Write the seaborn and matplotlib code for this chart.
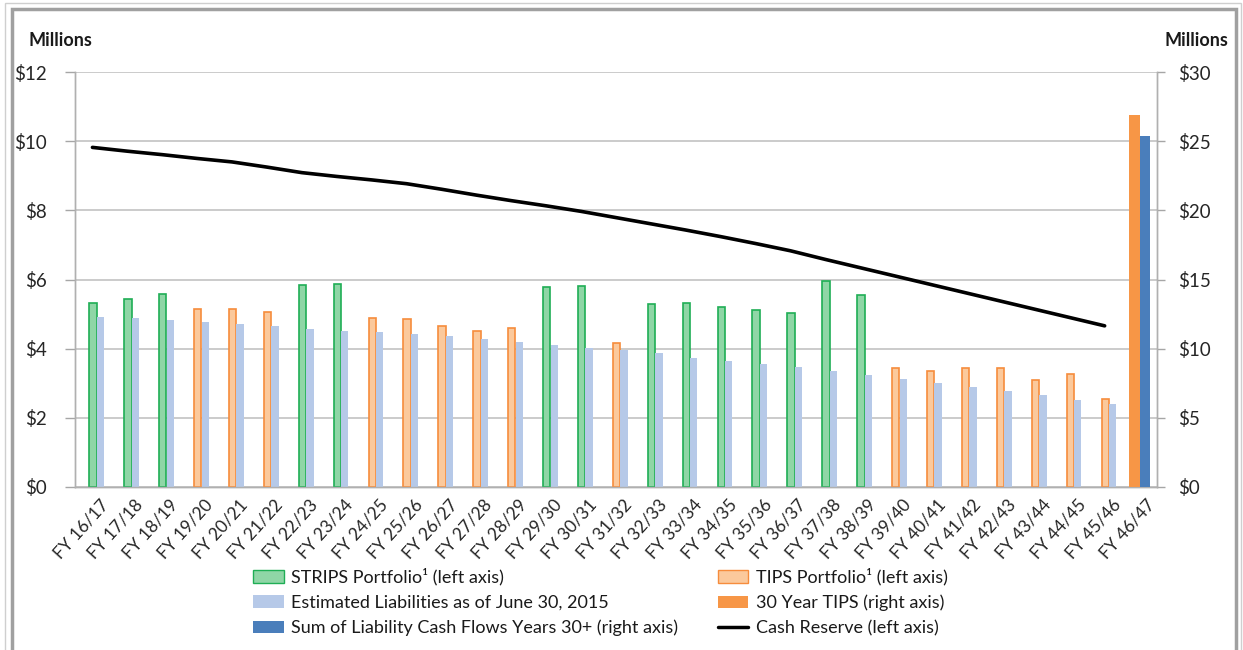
import numpy as np
import pandas as pd
import matplotlib
matplotlib.use('Agg')
import matplotlib.pyplot as plt
import matplotlib.transforms as mtransforms
from matplotlib.patches import Patch, Rectangle
from matplotlib.lines import Line2D
from matplotlib.ticker import FixedLocator, FuncFormatter
import seaborn as sns

# Fiscal years on the x axis
years = ['FY 16/17', 'FY 17/18', 'FY 18/19', 'FY 19/20', 'FY 20/21', 'FY 21/22',
         'FY 22/23', 'FY 23/24', 'FY 24/25', 'FY 25/26', 'FY 26/27', 'FY 27/28',
         'FY 28/29', 'FY 29/30', 'FY 30/31', 'FY 31/32', 'FY 32/33', 'FY 33/34',
         'FY 34/35', 'FY 35/36', 'FY 36/37', 'FY 37/38', 'FY 38/39', 'FY 39/40',
         'FY 40/41', 'FY 41/42', 'FY 42/43', 'FY 43/44', 'FY 44/45', 'FY 45/46',
         'FY 46/47']

# Left axis series ($ millions), NaN where the year has no such holding
nan = np.nan
strips = [5.33, 5.44, 5.58, nan, nan, nan, 5.84, 5.86, nan, nan, nan, nan,
          nan, 5.79, 5.82, nan, 5.29, 5.32, 5.21, 5.12, 5.02, 5.95, 5.56, nan,
          nan, nan, nan, nan, nan, nan, nan]
tips = [nan, nan, nan, 5.16, 5.16, 5.07, nan, nan, 4.89, 4.86, 4.66, 4.51,
        4.61, nan, nan, 4.16, nan, nan, nan, nan, nan, nan, nan, 3.45,
        3.35, 3.45, 3.45, 3.10, 3.28, 2.54, nan]
liabilities = [4.93, 4.88, 4.83, 4.77, 4.72, 4.66, 4.58, 4.50, 4.49, 4.42,
               4.36, 4.27, 4.18, 4.12, 4.02, 3.95, 3.87, 3.74, 3.65, 3.55,
               3.46, 3.35, 3.23, 3.12, 3.00, 2.90, 2.78, 2.66, 2.52, 2.40, nan]
cash_reserve = [9.82, 9.71, 9.61, 9.50, 9.40, 9.25, 9.09, 8.98, 8.88, 8.77,
                8.61, 8.44, 8.28, 8.13, 7.97, 7.79, 7.61, 7.43, 7.24, 7.04,
                6.83, 6.58, 6.34, 6.10, 5.86, 5.62, 5.38, 5.14, 4.90, 4.66]

# Right axis series ($ millions), only the last year
tips_30yr = [nan] * 30 + [26.9]
sum_30plus = [nan] * 30 + [25.4]

df = pd.DataFrame({'year': years, 'strips': strips, 'tips': tips,
                   'liabilities': liabilities, 'tips_30yr': tips_30yr,
                   'sum_30plus': sum_30plus})
df['pos'] = np.arange(len(df))

sns.set_theme(style='white')
plt.rcParams['font.family'] = ['Lato', 'DejaVu Sans']
plt.rcParams['text.color'] = '#1a1a1a'

GREEN_FILL, GREEN_EDGE = '#8fd6a6', '#1fae55'
TIPS_FILL, TIPS_EDGE = '#fbc99c', '#f68c3c'
LIAB = '#b6c9e8'
ORANGE = '#f79646'
BLUE = '#4a7ebb'
GRID = '#bdbdbd'

fig = plt.figure(figsize=(12.43, 6.5), dpi=100)
ax = fig.add_axes([75 / 1243, 1 - 487 / 650, 1082 / 1243, 415 / 650])
ax2 = ax.twinx()

# outer frame
fig.patches.append(Rectangle((5 / 1243, -0.1), 1236 / 1243, 1.1 - 3 / 650,
                             transform=fig.transFigure, fill=False,
                             edgecolor='#cfcfcf', lw=1))
fig.patches.append(Rectangle((12 / 1243, -0.1), 1224 / 1243, 1.1 - 9 / 650,
                             transform=fig.transFigure, fill=False,
                             edgecolor='#a0a0a0', lw=2.5))

w = 0.21
ax.bar(df['pos'] + 0.015, df['strips'], width=w, color=GREEN_FILL,
       edgecolor=GREEN_EDGE, linewidth=1.2, zorder=3)
ax.bar(df['pos'] + 0.015, df['tips'], width=w, color=TIPS_FILL,
       edgecolor=TIPS_EDGE, linewidth=1.2, zorder=3)
ax.bar(df['pos'] + 0.23, df['liabilities'], width=w, color=LIAB,
       linewidth=0, zorder=3)
ax2.bar(df['pos'] - 0.14, df['tips_30yr'], width=0.31, color=ORANGE,
        linewidth=0, zorder=3)
ax2.bar(df['pos'] + 0.16, df['sum_30plus'], width=0.29, color=BLUE,
        linewidth=0, zorder=3)

sns.lineplot(x=np.arange(len(cash_reserve)), y=cash_reserve, color='black',
             linewidth=2.6, ax=ax, zorder=4, legend=False)

ax.set_xlim(-0.5, len(years) - 0.5)
ax.set_ylim(0, 12)
ax2.set_ylim(0, 30)
ax.set_xlabel('')
ax.set_ylabel('')

ax.set_yticks(np.arange(0, 13, 2))
ax.yaxis.set_major_formatter(FuncFormatter(lambda v, p: f'${v:.0f}'))
ax2.set_yticks(np.arange(0, 31, 5))
ax2.yaxis.set_major_formatter(FuncFormatter(lambda v, p: f'${v:.0f}'))
ax.yaxis.grid(True, color=GRID, linewidth=1.1, zorder=0)
ax.set_axisbelow(True)

ax.set_xticks(df['pos'])
ax.set_xticklabels(years, rotation=48, ha='right', va='top',
                   rotation_mode='anchor', fontsize=12.5)
ax.xaxis.set_minor_locator(FixedLocator(np.arange(-0.5, len(years), 1)))
ax.tick_params(axis='x', which='major', length=0, pad=7)
ax.tick_params(axis='x', which='minor', length=6, color='#a6a6a6', width=1)

ax.tick_params(axis='y', which='major', length=7, color='#a6a6a6', width=1,
               labelsize=13.5, pad=13, left=True)
ax2.tick_params(axis='y', which='major', length=6, color='#a6a6a6', width=1,
                labelsize=13.5, pad=9, right=True)

for a in (ax, ax2):
    a.spines['top'].set_visible(False)
    for side in ('left', 'right', 'bottom'):
        a.spines[side].set_color('#b0b0b0')
        a.spines[side].set_linewidth(1)

# shift x tick labels a touch right of the centers
offset = mtransforms.ScaledTranslation(7 / 100, 0, fig.dpi_scale_trans)
for lab in ax.get_xticklabels():
    lab.set_transform(lab.get_transform() + offset)

fig.text(28 / 1243, 1 - 41 / 650, 'Millions', fontsize=13,
         fontweight='bold', ha='left', va='center')
fig.text(1228 / 1243, 1 - 40 / 650, 'Millions', fontsize=13,
         fontweight='bold', ha='right', va='center')

handles = [
    Patch(facecolor=GREEN_FILL, edgecolor=GREEN_EDGE, linewidth=1,
          label='STRIPS Portfolio\u00b9 (left axis)'),
    Patch(facecolor=LIAB, edgecolor='none',
          label='Estimated Liabilities as of June 30, 2015'),
    Patch(facecolor=BLUE, edgecolor='none',
          label='Sum of Liability Cash Flows Years 30+ (right axis)'),
    Patch(facecolor=TIPS_FILL, edgecolor=TIPS_EDGE, linewidth=1,
          label='TIPS Portfolio\u00b9 (left axis)'),
    Patch(facecolor=ORANGE, edgecolor='none',
          label='30 Year TIPS (right axis)'),
    Line2D([0], [0], color='black', linewidth=2.5,
           label='Cash Reserve (left axis)'),
]
fig.legend(handles=handles, ncol=2, loc='upper left',
           bbox_to_anchor=(253 / 1243, 1 - 568 / 650), frameon=False,
           fontsize=13, handlelength=1.7, handleheight=0.7,
           handletextpad=0.4, labelspacing=0.5, columnspacing=2.2,
           borderpad=0, borderaxespad=0)

fig.savefig('out.png', dpi=100)
